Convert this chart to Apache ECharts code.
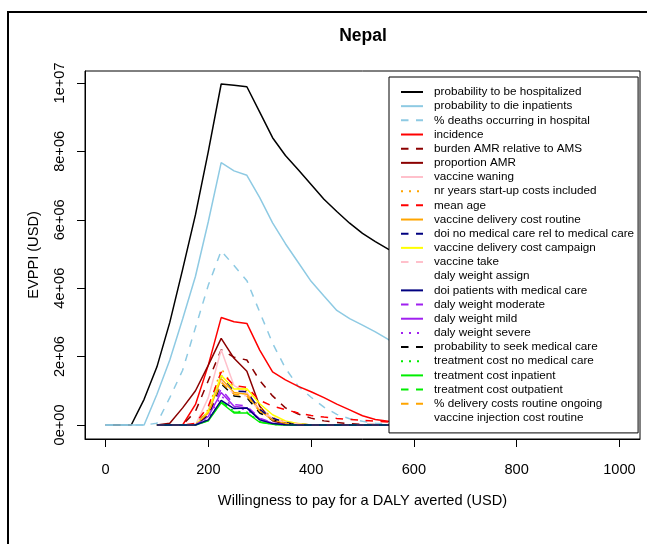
<!DOCTYPE html>
<html>
<head>
<meta charset="utf-8">
<script src="https://cdn.jsdelivr.net/npm/echarts@6/dist/echarts.min.js"></script>
<style>
  html, body { margin: 0; padding: 0; background: #fff; }
  #chart { width: 647px; height: 544px; }
</style>
</head>
<body>
<div id="chart"></div>
<script>
// willingness to pay grid (USD)
const wtp = [0, 25, 50, 75, 100, 125, 150, 175, 200, 225, 250, 275, 300, 325, 350, 375, 400, 425, 450, 475, 500,
  525, 550, 575, 600, 625, 650, 675, 700, 725, 750, 775, 800, 825, 850, 875, 900, 925, 950, 975, 1000]

const xTicks = [0, 200, 400, 600, 800, 1000]
const xTickLabels = ["0", "200", "400", "600", "800", "1000"]
const yTicks = [0, 2e6, 4e6, 6e6, 8e6, 1e7]
const yTickLabels = ["0e+00", "2e+06", "4e+06", "6e+06", "8e+06", "1e+07"]

// EVPPI values in millions USD, one per wtp point
const hospitalized = [0, 0, 0, 0.75, 1.7, 3.0, 4.55, 6.15, 8.0, 9.97, 9.93, 9.89, 9.15, 8.4, 7.88, 7.46, 7.03, 6.6, 6.24, 5.9, 5.6, 5.36, 5.14, 4.95, 4.76, 4.58, 4.41, 4.25, 4.1, 3.96, 3.83, 3.7, 3.58, 3.47, 3.36, 3.26, 3.16, 3.07, 2.98, 2.9, 2.82]
const dieInpatients = [0, 0, 0, 0, 0.9, 1.9, 3.1, 4.35, 5.95, 7.67, 7.43, 7.3, 6.65, 5.91, 5.3, 4.75, 4.2, 3.77, 3.35, 3.11, 2.92, 2.72, 2.5, 2.35, 2.2, 2.07, 1.95, 1.84, 1.74, 1.65, 1.56, 1.48, 1.41, 1.34, 1.28, 1.22, 1.17, 1.12, 1.07, 1.03, 0.99]
const deathsInHospital = [0, 0, 0, 0, 0.05, 0.8, 1.6, 2.85, 4.09, 5.09, 4.66, 4.22, 3.3, 2.39, 1.66, 1.13, 0.81, 0.52, 0.31, 0.18, 0.11, 0.05, 0.02, 0.01, 0, 0, 0, 0, 0, 0, 0, 0, 0, 0, 0, 0, 0, 0, 0, 0, 0]
const incidence = [null, null, null, null, 0, 0, 0, 0.6, 1.75, 3.14, 3.02, 2.97, 2.19, 1.55, 1.32, 1.13, 0.97, 0.8, 0.61, 0.44, 0.27, 0.16, 0.11, 0.09, 0.08, 0.07, 0.06, 0.05, 0.05, 0.04, 0.04, 0.03, 0.03, 0.03, 0.02, 0.02, 0.02, 0.02, 0.01, 0.01, 0.01]
const burdenAMR = [null, null, null, null, 0, 0, 0, 0.4, 1.3, 2.2, 1.98, 1.9, 1.3, 0.85, 0.5, 0.32, 0.2, 0.12, 0.07, 0.04, 0.02, 0.01, 0, 0, 0, 0, 0, 0, 0, 0, 0, 0, 0, 0, 0, 0, 0, 0, 0, 0, 0]
const proportionAMR = [null, null, null, null, 0, 0.05, 0.5, 1.0, 1.75, 2.53, 1.95, 1.57, 0.55, 0.12, 0.02, 0, 0, 0, 0, 0, 0, 0, 0, 0, 0, 0, 0, 0, 0, 0, 0, 0, 0, 0, 0, 0, 0, 0, 0, 0, 0]
const vaccineWaning = [null, null, null, null, 0, 0, 0, 0, 0.8, 2.2, 1.15, 0.95, 0.45, 0.2, 0.1, 0.04, 0, 0, 0, 0, 0, 0, 0, 0, 0, 0, 0, 0, 0, 0, 0, 0, 0, 0, 0, 0, 0, 0, 0, 0, 0]
const startupYears = [null, null, null, null, 0, 0, 0, 0, 0.45, 1.65, 1.1, 1.0, 0.5, 0.22, 0.08, 0.03, 0, 0, 0, 0, 0, 0, 0, 0, 0, 0, 0, 0, 0, 0, 0, 0, 0, 0, 0, 0, 0, 0, 0, 0, 0]
const meanAge = [null, null, null, null, 0, 0, 0, 0.05, 0.55, 1.55, 1.15, 1.1, 0.72, 0.55, 0.45, 0.35, 0.28, 0.23, 0.19, 0.16, 0.14, 0.11, 0.09, 0.08, 0.07, 0.06, 0.05, 0.05, 0.04, 0.04, 0.03, 0.03, 0.03, 0.02, 0.02, 0.02, 0.02, 0.01, 0.01, 0.01, 0.01]
const deliveryRoutine = [null, null, null, null, 0, 0, 0, 0, 0.35, 1.35, 0.95, 0.9, 0.42, 0.15, 0.06, 0.02, 0, 0, 0, 0, 0, 0, 0, 0, 0, 0, 0, 0, 0, 0, 0, 0, 0, 0, 0, 0, 0, 0, 0, 0, 0]
const doiNoCare = [null, null, null, null, 0, 0, 0, 0, 0.4, 1.45, 1.0, 0.97, 0.45, 0.2, 0.08, 0.03, 0, 0, 0, 0, 0, 0, 0, 0, 0, 0, 0, 0, 0, 0, 0, 0, 0, 0, 0, 0, 0, 0, 0, 0, 0]
const deliveryCampaign = [null, null, null, null, 0, 0, 0, 0, 0.4, 1.45, 1.05, 1.06, 0.62, 0.3, 0.12, 0.04, 0, 0, 0, 0, 0, 0, 0, 0, 0, 0, 0, 0, 0, 0, 0, 0, 0, 0, 0, 0, 0, 0, 0, 0, 0]
const vaccineTake = [null, null, null, null, 0, 0, 0, 0, 0.35, 1.3, 0.9, 0.85, 0.4, 0.18, 0.08, 0.03, 0, 0, 0, 0, 0, 0, 0, 0, 0, 0, 0, 0, 0, 0, 0, 0, 0, 0, 0, 0, 0, 0, 0, 0, 0]
const dalyAssign = [null, null, null, null, 0, 0, 0, 0, 0, 0, 0, 0, 0, 0, 0, 0, 0, 0, 0, 0, 0, 0, 0, 0, 0, 0, 0, 0, 0, 0, 0, 0, 0, 0, 0, 0, 0, 0, 0, 0, 0]
const doiWithCare = [null, null, null, null, 0, 0, 0, 0, 0.15, 0.72, 0.48, 0.5, 0.15, 0.04, 0.01, 0, 0, 0, 0, 0, 0, 0, 0, 0, 0, 0, 0, 0, 0, 0, 0, 0, 0, 0, 0, 0, 0, 0, 0, 0, 0]
const dalyModerate = [null, null, null, null, 0, 0, 0, 0, 0.3, 1.05, 0.6, 0.55, 0.2, 0.06, 0.01, 0, 0, 0, 0, 0, 0, 0, 0, 0, 0, 0, 0, 0, 0, 0, 0, 0, 0, 0, 0, 0, 0, 0, 0, 0, 0]
const dalyMild = [null, null, null, null, 0, 0, 0, 0, 0.25, 0.95, 0.55, 0.5, 0.18, 0.05, 0.01, 0, 0, 0, 0, 0, 0, 0, 0, 0, 0, 0, 0, 0, 0, 0, 0, 0, 0, 0, 0, 0, 0, 0, 0, 0, 0]
const dalySevere = [null, null, null, null, 0, 0, 0, 0, 0.22, 0.85, 0.5, 0.45, 0.15, 0.05, 0.01, 0, 0, 0, 0, 0, 0, 0, 0, 0, 0, 0, 0, 0, 0, 0, 0, 0, 0, 0, 0, 0, 0, 0, 0, 0, 0]
const seekCare = [null, null, null, null, 0, 0, 0, 0, 0.3, 1.2, 0.85, 0.8, 0.35, 0.15, 0.05, 0.01, 0, 0, 0, 0, 0, 0, 0, 0, 0, 0, 0, 0, 0, 0, 0, 0, 0, 0, 0, 0, 0, 0, 0, 0, 0]
const costNoCare = [null, null, null, null, 0, 0, 0, 0, 0.15, 0.7, 0.4, 0.38, 0.1, 0.02, 0, 0, 0, 0, 0, 0, 0, 0, 0, 0, 0, 0, 0, 0, 0, 0, 0, 0, 0, 0, 0, 0, 0, 0, 0, 0, 0]
const costInpatient = [null, null, null, null, 0, 0, 0, 0, 0.12, 0.65, 0.35, 0.35, 0.08, 0.02, 0, 0, 0, 0, 0, 0, 0, 0, 0, 0, 0, 0, 0, 0, 0, 0, 0, 0, 0, 0, 0, 0, 0, 0, 0, 0, 0]
const costOutpatient = [null, null, null, null, 0, 0, 0, 0, 0.13, 0.68, 0.38, 0.36, 0.09, 0.02, 0, 0, 0, 0, 0, 0, 0, 0, 0, 0, 0, 0, 0, 0, 0, 0, 0, 0, 0, 0, 0, 0, 0, 0, 0, 0, 0]
const deliveryOngoing = [null, null, null, null, 0, 0, 0, 0, 0.35, 1.25, 0.9, 0.85, 0.4, 0.15, 0.05, 0.01, 0, 0, 0, 0, 0, 0, 0, 0, 0, 0, 0, 0, 0, 0, 0, 0, 0, 0, 0, 0, 0, 0, 0, 0, 0]
const injectionRoutine = [null, null, null, null, 0, 0, 0, 0, 0, 0, 0, 0, 0, 0, 0, 0, 0, 0, 0, 0, 0, 0, 0, 0, 0, 0, 0, 0, 0, 0, 0, 0, 0, 0, 0, 0, 0, 0, 0, 0, 0]

const seriesNames = [
  "probability to be hospitalized", "probability to die inpatients", "% deaths occurring in hospital",
  "incidence", "burden AMR relative to AMS", "proportion AMR", "vaccine waning",
  "nr years start-up costs included", "mean age", "vaccine delivery cost routine",
  "doi no medical care rel to medical care", "vaccine delivery cost campaign", "vaccine take",
  "daly weight assign", "doi patients with medical care", "daly weight moderate", "daly weight mild",
  "daly weight severe", "probability to seek medical care", "treatment cost no medical care",
  "treatment cost inpatient", "treatment cost outpatient", "% delivery costs routine ongoing",
  "vaccine injection cost routine",
]
const seriesValues = [
  hospitalized, dieInpatients, deathsInHospital, incidence, burdenAMR, proportionAMR, vaccineWaning,
  startupYears, meanAge, deliveryRoutine, doiNoCare, deliveryCampaign, vaccineTake, dalyAssign,
  doiWithCare, dalyModerate, dalyMild, dalySevere, seekCare, costNoCare, costInpatient, costOutpatient,
  deliveryOngoing, injectionRoutine,
]
const seriesColors = [
  "#000000", "#8ecae3", "#8ecae3", "#ff0000", "#8b0000", "#8b0000", "#ffc0cb",
  "#ffa500", "#ff0000", "#ffa500", "#000080", "#ffff00", "#ffc0cb", "rgba(0,0,0,0)",
  "#000080", "#a020f0", "#a020f0", "#a020f0", "#000000", "#00ee00",
  "#00ee00", "#00ee00", "#ffa500", "rgba(0,0,0,0)",
]
const seriesLines = [
  "solid", "solid", "dashed", "solid", "dashed", "solid", "solid",
  "dotted", "dashed", "solid", "dashed", "solid", "dashed", "solid",
  "solid", "dashed", "solid", "dotted", "dashed", "dotted",
  "solid", "dashed", "dashed", "solid",
]

const dashPatterns = { solid: "solid", dashed: [7.5, 7.5], dotted: [2, 6] }
const font = "Liberation Sans, Arial, sans-serif"

const chart = echarts.init(document.getElementById("chart"))

const series = seriesNames.map((name, k) => ({
  name: name,
  type: "line",
  symbol: "none",
  z: name === "doi patients with medical care" ? 3 : 2,
  data: wtp.map((x, i) => [x, seriesValues[k][i] == null ? null : seriesValues[k][i] * 1e6]),
  lineStyle: { color: seriesColors[k], width: 1.5, type: dashPatterns[seriesLines[k]] },
  itemStyle: { color: seriesColors[k] },
  emphasis: { disabled: true },
}))

const option = {
  animation: false,
  backgroundColor: "#fff",
  textStyle: { fontFamily: font },
  title: {
    text: "Nepal",
    left: 358,
    top: 22,
    textAlign: "center",
    textStyle: { fontSize: 17.5, fontWeight: "bold", color: "#000", fontFamily: font },
  },
  graphic: [
    {
      type: "polyline",
      shape: { points: [[8, 544], [8, 12], [647, 12]] },
      style: { stroke: "#000", lineWidth: 2, fill: null },
      silent: true,
    },
  ],
  grid: {
    left: 85,
    top: 71,
    width: 555,
    height: 368,
    show: true,
    borderColor: "#000",
    borderWidth: 1,
    backgroundColor: "transparent",
  },
  legend: {
    orient: "vertical",
    left: 389,
    top: 77,
    padding: [8, 4, 8, 11],
    itemWidth: 22,
    itemHeight: 14,
    itemGap: 0.17,
    selectedMode: false,
    backgroundColor: "#fff",
    borderColor: "#000",
    borderWidth: 1,
    borderRadius: 0,
    itemStyle: { opacity: 0 },
    textStyle: { fontSize: 11.7, color: "#000", fontFamily: font, lineHeight: 14, padding: [0, 0, 0, 6] },
    data: seriesNames,
  },
  xAxis: {
    type: "value",
    min: -40,
    max: 1040,
    name: "Willingness to pay for a DALY averted (USD)",
    nameLocation: "middle",
    nameGap: 54,
    nameTextStyle: { fontSize: 14.6, color: "#000", fontFamily: font },
    axisLine: { show: true, onZero: false, lineStyle: { color: "#000", width: 1 } },
    axisTick: { show: true, length: 8, customValues: xTicks, lineStyle: { color: "#000", width: 1 } },
    axisLabel: {
      customValues: xTicks,
      fontSize: 14.6,
      color: "#000",
      margin: 23,
      fontFamily: font,
      formatter: (v) => xTickLabels[xTicks.indexOf(v)],
    },
    splitLine: { show: false },
  },
  yAxis: {
    type: "value",
    min: -410000,
    max: 10350000,
    name: "EVPPI (USD)",
    nameLocation: "middle",
    nameGap: 44,
    nameRotate: 90,
    nameTextStyle: { fontSize: 14.6, color: "#000", fontFamily: font },
    axisLine: { show: true, onZero: false, lineStyle: { color: "#000", width: 1 } },
    axisTick: { show: true, length: 8, customValues: yTicks, lineStyle: { color: "#000", width: 1 } },
    axisLabel: {
      customValues: yTicks,
      rotate: 90,
      fontSize: 14.6,
      color: "#000",
      margin: 18,
      fontFamily: font,
      formatter: (v) => yTickLabels[yTicks.indexOf(v)],
    },
    splitLine: { show: false },
  },
  series: series,
}

chart.setOption(option)
</script>
</body>
</html>
